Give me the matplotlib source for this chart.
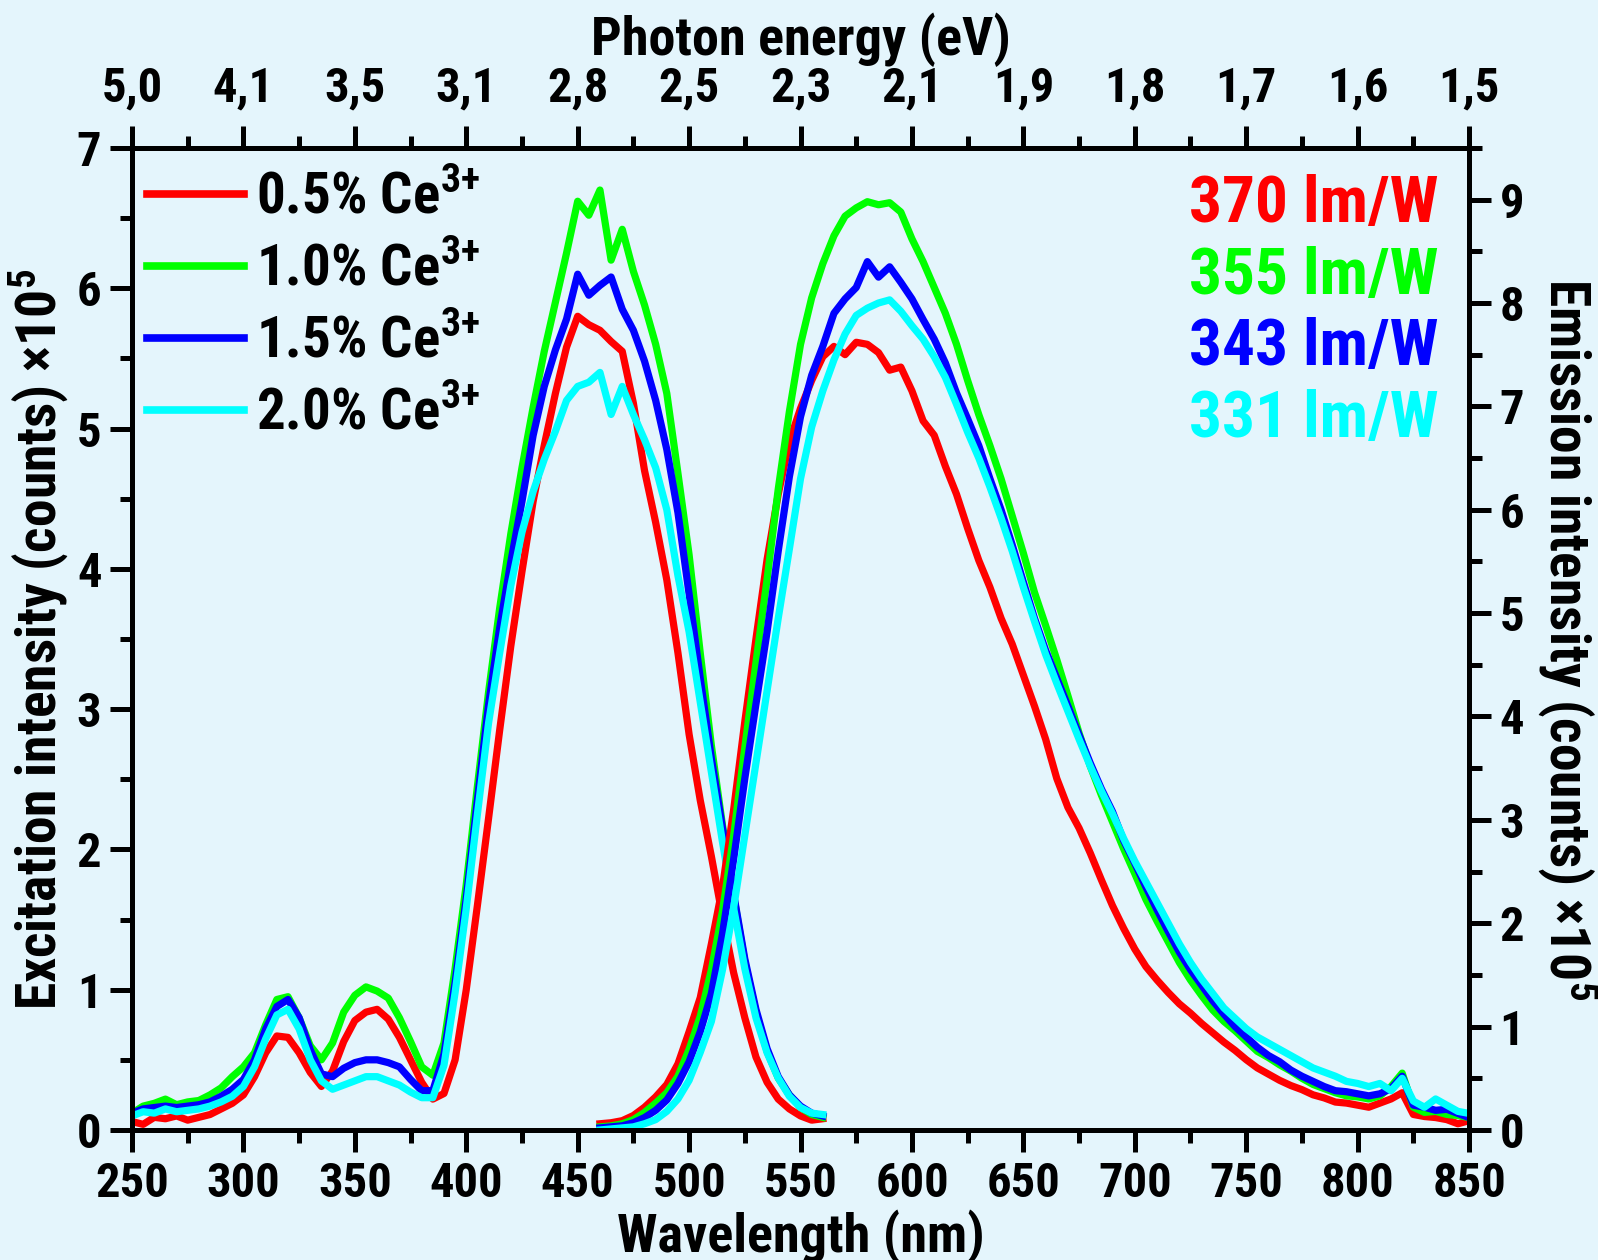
import matplotlib
matplotlib.use('Agg')
import matplotlib.pyplot as plt
from matplotlib import font_manager
from matplotlib.ticker import MultipleLocator

# narrow bold sans, like Arial Narrow Bold in the original
_bold = {f.name for f in font_manager.fontManager.ttflist
         if isinstance(f.weight, int) and f.weight >= 700 or f.weight == 'bold'}
FONT = next((f for f in ['Liberation Sans Narrow', 'Arial Narrow', 'Roboto Condensed',
                         'Archivo Narrow', 'PT Sans Narrow'] if f in _bold), 'Liberation Sans')

plt.rcParams['font.family'] = [FONT, 'Liberation Sans', 'DejaVu Sans']
plt.rcParams['font.weight'] = 'bold'
plt.rcParams['axes.labelweight'] = 'bold'
plt.rcParams['mathtext.fontset'] = 'custom'
plt.rcParams['mathtext.rm'] = FONT + ':bold'
plt.rcParams['mathtext.it'] = FONT + ':bold'
plt.rcParams['mathtext.bf'] = FONT + ':bold'
plt.rcParams['mathtext.default'] = 'regular'

BG = '#E4F5FC'
COLORS = ['#FF0000', '#00FF00', '#0000FF', '#00FFFF']
SAMPLES = ['0.5% Ce$^{3{+}}$', '1.0% Ce$^{3{+}}$', '1.5% Ce$^{3{+}}$', '2.0% Ce$^{3{+}}$']
EFFICACY = ['370 lm/W', '355 lm/W', '343 lm/W', '331 lm/W']

# excitation spectra, left axis (x 1e5 counts)
EXC_WL = list(range(250, 565, 5))
EXC_RED = [0.06, 0.04, 0.09, 0.08, 0.10, 0.07, 0.09, 0.11, 0.15, 0.19,
           0.25, 0.38, 0.55, 0.67, 0.66, 0.55, 0.41, 0.31, 0.42, 0.63,
           0.78, 0.84, 0.86, 0.79, 0.66, 0.50, 0.34, 0.22, 0.26, 0.50,
           1.00, 1.60, 2.22, 2.85, 3.45, 3.98, 4.48, 4.88, 5.25, 5.58,
           5.80, 5.74, 5.70, 5.62, 5.55, 5.18, 4.70, 4.33, 3.92, 3.40,
           2.82, 2.35, 1.95, 1.52, 1.12, 0.80, 0.52, 0.34, 0.22, 0.15,
           0.10, 0.07, 0.08]
EXC_GREEN = [0.12, 0.17, 0.19, 0.22, 0.18, 0.20, 0.21, 0.25, 0.30, 0.38,
             0.45, 0.55, 0.75, 0.93, 0.95, 0.80, 0.60, 0.50, 0.62, 0.84,
             0.96, 1.02, 0.99, 0.94, 0.80, 0.63, 0.45, 0.39, 0.62, 1.15,
             1.75, 2.45, 3.12, 3.72, 4.25, 4.72, 5.15, 5.55, 5.90, 6.25,
             6.62, 6.52, 6.70, 6.20, 6.42, 6.12, 5.88, 5.60, 5.25, 4.68,
             4.10, 3.40, 2.74, 2.17, 1.67, 1.20, 0.84, 0.56, 0.37, 0.25,
             0.16, 0.11, 0.09]
EXC_BLUE = [0.12, 0.15, 0.16, 0.17, 0.16, 0.17, 0.18, 0.20, 0.24, 0.29,
            0.36, 0.50, 0.72, 0.88, 0.93, 0.80, 0.57, 0.40, 0.38, 0.44,
            0.48, 0.50, 0.50, 0.48, 0.45, 0.36, 0.28, 0.28, 0.54, 1.05,
            1.65, 2.35, 3.03, 3.58, 4.05, 4.48, 4.95, 5.30, 5.56, 5.78,
            6.10, 5.95, 6.02, 6.08, 5.85, 5.70, 5.48, 5.20, 4.85, 4.40,
            3.82, 3.22, 2.65, 2.15, 1.68, 1.22, 0.86, 0.58, 0.38, 0.25,
            0.17, 0.12, 0.10]
EXC_CYAN = [0.10, 0.13, 0.12, 0.15, 0.13, 0.14, 0.15, 0.17, 0.20, 0.24,
            0.31, 0.45, 0.65, 0.82, 0.86, 0.72, 0.50, 0.35, 0.29, 0.32,
            0.35, 0.38, 0.38, 0.35, 0.32, 0.27, 0.23, 0.23, 0.46, 0.98,
            1.58, 2.25, 2.90, 3.40, 3.88, 4.26, 4.55, 4.78, 4.98, 5.20,
            5.30, 5.33, 5.40, 5.10, 5.30, 5.10, 4.92, 4.72, 4.42, 3.95,
            3.55, 3.05, 2.55, 2.05, 1.58, 1.15, 0.80, 0.55, 0.37, 0.24,
            0.16, 0.12, 0.11]

# emission spectra, right axis (x 1e5 counts)
EM_WL = list(range(460, 855, 5))
EM_RED = [0.06, 0.07, 0.09, 0.14, 0.22, 0.32, 0.44, 0.64, 0.95, 1.28,
          1.80, 2.35, 3.10, 3.95, 4.75, 5.52, 6.15, 6.66, 6.98, 7.25,
          7.48, 7.58, 7.50, 7.62, 7.60, 7.52, 7.35, 7.38, 7.15, 6.86,
          6.72, 6.42, 6.15, 5.82, 5.51, 5.25, 4.95, 4.70, 4.40, 4.10,
          3.78, 3.40, 3.12, 2.92, 2.68, 2.42, 2.17, 1.95, 1.75, 1.58,
          1.45, 1.33, 1.22, 1.13, 1.03, 0.94, 0.85, 0.77, 0.68, 0.60,
          0.54, 0.48, 0.43, 0.39, 0.34, 0.31, 0.27, 0.26, 0.24, 0.22,
          0.26, 0.30, 0.36, 0.15, 0.13, 0.12, 0.10, 0.06, 0.09]
EM_GREEN = [0.03, 0.04, 0.06, 0.10, 0.17, 0.26, 0.36, 0.52, 0.78, 1.10,
            1.55, 2.12, 2.85, 3.70, 4.52, 5.33, 6.20, 6.95, 7.60, 8.05,
            8.38, 8.65, 8.84, 8.92, 8.98, 8.95, 8.97, 8.88, 8.62, 8.40,
            8.15, 7.90, 7.60, 7.25, 6.92, 6.62, 6.30, 5.94, 5.58, 5.20,
            4.88, 4.55, 4.20, 3.84, 3.52, 3.24, 2.98, 2.72, 2.48, 2.23,
            2.02, 1.82, 1.62, 1.45, 1.30, 1.16, 1.05, 0.96, 0.86, 0.76,
            0.70, 0.63, 0.57, 0.50, 0.44, 0.40, 0.36, 0.33, 0.32, 0.30,
            0.33, 0.42, 0.55, 0.22, 0.17, 0.18, 0.15, 0.14, 0.12]
EM_BLUE = [0.02, 0.03, 0.04, 0.07, 0.12, 0.19, 0.29, 0.45, 0.66, 0.95,
           1.32, 1.90, 2.62, 3.40, 4.12, 4.82, 5.60, 6.32, 6.90, 7.30,
           7.58, 7.90, 8.04, 8.15, 8.40, 8.25, 8.35, 8.20, 8.04, 7.84,
           7.65, 7.42, 7.13, 6.88, 6.62, 6.30, 6.00, 5.66, 5.30, 4.95,
           4.64, 4.37, 4.10, 3.82, 3.55, 3.30, 3.08, 2.80, 2.58, 2.35,
           2.13, 1.92, 1.72, 1.55, 1.40, 1.25, 1.12, 1.00, 0.90, 0.80,
           0.72, 0.66, 0.58, 0.52, 0.47, 0.42, 0.38, 0.37, 0.35, 0.33,
           0.35, 0.40, 0.52, 0.24, 0.22, 0.19, 0.20, 0.16, 0.12]
EM_CYAN = [0.00, 0.01, 0.02, 0.03, 0.06, 0.10, 0.18, 0.30, 0.48, 0.75,
           1.05, 1.55, 2.15, 2.85, 3.55, 4.25, 4.95, 5.62, 6.30, 6.80,
           7.15, 7.45, 7.70, 7.88, 7.95, 8.00, 8.03, 7.92, 7.78, 7.65,
           7.48, 7.28, 7.02, 6.75, 6.50, 6.22, 5.92, 5.60, 5.25, 4.92,
           4.60, 4.32, 4.05, 3.78, 3.52, 3.28, 3.06, 2.82, 2.60, 2.40,
           2.20, 2.00, 1.80, 1.62, 1.46, 1.32, 1.18, 1.08, 0.98, 0.90,
           0.84, 0.78, 0.72, 0.66, 0.60, 0.56, 0.52, 0.47, 0.45, 0.42,
           0.45, 0.38, 0.50, 0.28, 0.22, 0.30, 0.24, 0.18, 0.16]

TOP_TICK_WL = [250, 300, 350, 400, 450, 500, 550, 600, 650, 700, 750, 800, 850]
ENERGY_LABELS = ['5,0', '4,1', '3,5', '3,1', '2,8', '2,5', '2,3', '2,1',
                 '1,9', '1,8', '1,7', '1,6', '1,5']

LW = 5.2
SPINE = 3.6

fig = plt.figure(figsize=(15.98, 12.6), dpi=100, facecolor=BG)
ax = fig.add_axes([0.0826, 0.1032, 0.8367, 0.7794], facecolor=BG)
ax2 = ax.twinx()

exc = [EXC_RED, EXC_GREEN, EXC_BLUE, EXC_CYAN]
em = [EM_RED, EM_GREEN, EM_BLUE, EM_CYAN]
for ys, c, lab in zip(exc, COLORS, SAMPLES):
    ax.plot(EXC_WL, ys, color=c, lw=LW, label=lab)
for ys, c in zip(em, COLORS):
    ax2.plot(EM_WL, ys, color=c, lw=LW)

ax.set_xlim(250, 850)
ax.set_ylim(0, 7)
ax2.set_ylim(0, 9.5)
ax.xaxis.set_major_locator(MultipleLocator(50))
ax.xaxis.set_minor_locator(MultipleLocator(25))
ax.yaxis.set_major_locator(MultipleLocator(1))
ax.yaxis.set_minor_locator(MultipleLocator(0.5))
ax2.yaxis.set_major_locator(MultipleLocator(1))
ax2.yaxis.set_minor_locator(MultipleLocator(0.5))

top = ax.secondary_xaxis('top')
top.set_xticks(TOP_TICK_WL, labels=ENERGY_LABELS)
top.xaxis.set_minor_locator(MultipleLocator(25))

for a in (ax, ax2, top):
    a.tick_params(which='major', direction='out', length=16, width=SPINE,
                  labelsize=35, pad=6)
    a.tick_params(which='minor', direction='out', length=9, width=SPINE)
    for s in a.spines.values():
        s.set_linewidth(SPINE)
top.tick_params(which='major', pad=10)

ax.set_xlabel('Wavelength (nm)', fontsize=39, labelpad=2)
top.set_xlabel('Photon energy (eV)', fontsize=39, labelpad=8)
ax.set_ylabel('Excitation intensity (counts) \u00d710$^5$', fontsize=40, labelpad=4)
ax2.set_ylabel('Emission intensity (counts) \u00d710$^5$', fontsize=40,
               rotation=270, va='bottom', labelpad=8)

leg = ax.legend(loc='upper left', bbox_to_anchor=(0.011, 0.977), frameon=False,
                fontsize=41, handlelength=1.7, handletextpad=0.22,
                labelspacing=0.30, borderpad=0.0, borderaxespad=0.0)
for h in leg.get_lines():
    h.set_linewidth(5.5)

for i, (txt, c) in enumerate(zip(EFFICACY, COLORS)):
    ax.text(0.977, 0.942 - i * 0.0728, txt, transform=ax.transAxes, ha='right',
            va='center', color=c, fontsize=47, fontweight='bold')

fig.savefig('out.png', dpi=100, facecolor=BG)
